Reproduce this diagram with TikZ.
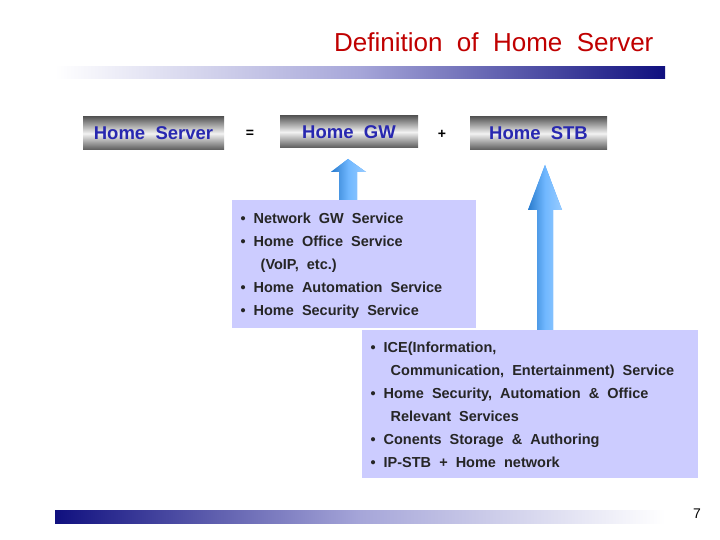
\documentclass[tikz,border=0pt]{standalone}
\usepackage{fontspec}
\setmainfont{Liberation Sans}
\definecolor{navy}{HTML}{10107F}
\definecolor{lav}{HTML}{CCCCFF}
\definecolor{bluetxt}{HTML}{2828B0}
\definecolor{titlered}{HTML}{C00000}
\definecolor{arrowblue}{HTML}{3399FF}
\begin{document}
\begin{tikzpicture}[x=1pt,y=-1pt,
  hbox/.style={draw=none,top color=gray!70!black,bottom color=gray!70!black,middle color=gray!10,
    text=bluetxt,font=\fontsize{18.5}{20}\selectfont\bfseries,inner sep=0pt,text height=13pt,text depth=0pt},
  info/.style={fill=lav,draw=none},
  itxt/.style={anchor=west,font=\fontsize{14.5}{16}\selectfont\bfseries,text=black!85,text height=10.5pt,text depth=3pt},
  upar/.style={fill=arrowblue,draw=none,left color=arrowblue!80!black,right color=arrowblue!50,middle color=arrowblue!70}]
\useasboundingbox (0,0) rectangle (720,540);
\fill[white] (0,0) rectangle (720,540);
\node[anchor=east,text=titlered,font=\fontsize{26}{30}\selectfont] (title) at (657,42) {Definition\ \ of\ \ Home\ \ Server};
\shade[left color=white,right color=navy,middle color=gray!60!blue!50] (55,67) rectangle (665,79);
\shade[left color=navy,right color=white,middle color=gray!60!blue!50] (55,510) rectangle (665,523);
\node[font=\fontsize{14}{16}\selectfont] (pg) at (697,514) {7};
\node[hbox,minimum width=141pt,minimum height=33pt] (hs) at (153.5,133.5) {Home\ \ Server};
\node[hbox,minimum width=138pt,minimum height=32pt] (gw) at (349,132) {Home\ \ GW};
\node[hbox,minimum width=137pt,minimum height=33pt] (stb) at (538.5,133.5) {Home\ \ STB};
\node[font=\fontsize{14}{16}\selectfont\bfseries] (eq) at (250,134) {=};
\node[font=\fontsize{14}{16}\selectfont\bfseries] (pl) at (442,134) {+};
\shade[upar] (339,200) -- (339,172) -- (331,172) -- (348,159) -- (366,172) -- (357,172) -- (357,200) -- cycle;
\shade[upar] (537,330) -- (537,210) -- (528,210) -- (545,165) -- (562,210) -- (553,210) -- (553,330) -- cycle;
\node[info,minimum width=244pt,minimum height=128pt] (b1) at (354,264) {};
\node[info,minimum width=336pt,minimum height=148pt] (b2) at (530,404) {};
\foreach \t/\y in {{• \ Network\ \ GW\ \ Service}/220,{• \ Home\ \ Office\ \ Service}/243,{\ \ \ \ \ (VoIP,\ \ etc.)}/266,{• \ Home\ \ Automation\ \ Service}/289,{• \ Home\ \ Security\ \ Service}/312}
  \node[itxt] at (237,\y) {\t};
\foreach \t/\y in {{• \ ICE(Information,}/349,{\ \ \ \ \ Communication,\ \ Entertainment)\ \ Service}/372,{• \ Home\ \ Security,\ \ Automation\ \ \&\ \ Office}/395,{\ \ \ \ \ Relevant\ \ Services}/418,{• \ Conents\ \ Storage\ \ \&\ \ Authoring}/441,{• \ IP-STB\ \ +\ \ Home\ \ network}/464}
  \node[itxt] at (367,\y) {\t};
\end{tikzpicture}
\end{document}
